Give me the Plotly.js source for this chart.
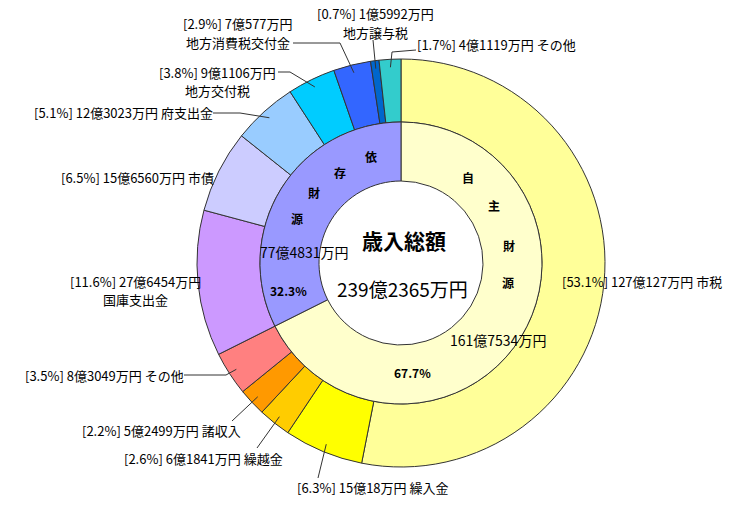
<!DOCTYPE html>
<html><head><meta charset="utf-8">
<script src="https://cdn.plot.ly/plotly-3.0.1.min.js"></script>
<style>html,body{margin:0;padding:0;background:#fff}</style>
</head><body><div id="chart" style="width:750px;height:509px"></div>
<script>
// ---- data (amounts in 万円) ----
const categories = ['市税','繰入金','繰越金','諸収入','その他','国庫支出金','市債','府支出金','地方交付税','地方消費税交付金','地方譲与税','その他'];
const amounts = [1270127,150018,61841,52499,83049,276454,156560,123023,91106,70577,15992,41119];
const percents = [53.1,6.3,2.6,2.2,3.5,11.6,6.5,5.1,3.8,2.9,0.7,1.7];
const sourceGroups = ['自主財源','依存財源'];
const sourceAmounts = [1617534,774831];
const sourcePercents = [67.7,32.3];
const totalTitle = '歳入総額';
const totalAmount = 2392365;

// ---- styles ----
const outerColors = ['#FFFF99','#FFFF00','#FFCC00','#FF9900','#FF8080','#CC99FF','#CCCCFF','#99CCFF','#00CCFF','#3366FF','#0066CC','#33CCCC'];
const innerColors = ['#FFFFCC','#9999FF'];
const W = 750, H = 509, CX = 401, CY = 263, R_OUT = 204, R_MID = 141, R_IN = 82;
const FONT = '"Noto Sans CJK JP", "Noto Sans", sans-serif';

// label placement (pixels): mode 'L' left-anchored, 'R' right-anchored, 'C2' two centered lines
const labelPlace = [
  {mode:'L', x:562, y:281, lead:[]},
  {mode:'L', x:297, y:487, lead:[[318,478]]},
  {mode:'R', x:283, y:458, lead:[[257,448]]},
  {mode:'R', x:241, y:430, lead:[[232,421]]},
  {mode:'R', x:184, y:375, lead:[[184,375],[226,375]]},
  {mode:'C2', x:135, y:281, y2:299, lead:[]},
  {mode:'R', x:214, y:177, lead:[]},
  {mode:'R', x:213, y:113, lead:[[213,113],[240,113]]},
  {mode:'C2', x:217, y:72, y2:90, lead:[[278,72],[290,72]]},
  {mode:'C2', x:238, y:23, y2:43, lead:[[293,43],[340,43]]},
  {mode:'C2', x:375, y:14, y2:32, lead:[[373,40]]},
  {mode:'L', x:417, y:44, lead:[[416,50],[392,52]]}
];
// inner ring character positions (pixels)
const selfCharPos = [[468,177],[494,206],[509,245],[508,282]];
const depCharPos = [[371,156],[340,172],[314,192],[297,218]];

const px = x => x / W, py = y => 1 - y / H;
const fmtYen = v => Math.floor(v/10000) + '億' + (v % 10000) + '万円';
const total = amounts.reduce((a,b)=>a+b,0);

const traces = [
  {type:'pie', values:amounts, labels:categories.map((c,i)=>c+i), sort:false, direction:'clockwise', rotation:0,
   hole:R_MID/R_OUT, textinfo:'none', hoverinfo:'skip', showlegend:false,
   marker:{colors:outerColors, line:{color:'#333', width:1}},
   domain:{x:[px(CX-R_OUT), px(CX+R_OUT)], y:[py(CY+R_OUT), py(CY-R_OUT)]}},
  {type:'pie', values:sourceAmounts, labels:sourceGroups, sort:false, direction:'clockwise', rotation:0,
   hole:R_IN/R_MID, textinfo:'none', hoverinfo:'skip', showlegend:false,
   marker:{colors:innerColors, line:{color:'#333', width:1}},
   domain:{x:[px(CX-R_MID), px(CX+R_MID)], y:[py(CY+R_MID), py(CY-R_MID)]}}
];

const annotations = [];
const shapes = [];
const base = {family:FONT, size:13, color:'#000'};
function ann(text, x, y, opts) {
  annotations.push(Object.assign({text:text, x:px(x), y:py(y), xref:'paper', yref:'paper', showarrow:false,
    xanchor:'center', yanchor:'middle', borderpad:0, borderwidth:0, font:base}, opts||{}));
}
let cum = 0;
amounts.forEach((v,i)=>{
  const p = labelPlace[i];
  const head = '[' + percents[i].toFixed(1) + '%] ' + fmtYen(v);
  if (p.mode === 'L') ann(head + ' ' + categories[i], p.x, p.y, {xanchor:'left'});
  else if (p.mode === 'R') ann(head + ' ' + categories[i], p.x, p.y, {xanchor:'right'});
  else { ann(head, p.x, p.y); ann(categories[i], p.x, p.y2); }
  const th = 2*Math.PI*(cum + v/2)/total;
  cum += v;
  if (p.lead.length) {
    const pts = p.lead.concat([[CX + 196*Math.sin(th), CY - 196*Math.cos(th)]]);
    const d = 'M' + pts.map(q => px(q[0]) + ',' + py(q[1])).join(' L');
    shapes.push({type:'path', xref:'paper', yref:'paper', path:d, line:{color:'#333', width:1}});
  }
});

// inner ring labels
const bold = {family:FONT, size:12, color:'#000', weight:'bold'};
const mid = {family:FONT, size:14, color:'#000'};
sourceGroups[0].split('').forEach((c,i)=>ann(c, selfCharPos[i][0], selfCharPos[i][1], {font:bold}));
sourceGroups[1].split('').forEach((c,i)=>ann(c, depCharPos[i][0], depCharPos[i][1], {font:bold}));
ann(fmtYen(sourceAmounts[0]), 498, 340, {font:mid});
ann(sourcePercents[0].toFixed(1) + '%', 412, 372, {font:bold});
ann(fmtYen(sourceAmounts[1]), 304, 252, {font:mid});
ann(sourcePercents[1].toFixed(1) + '%', 288, 290, {font:bold});

// centre
ann(totalTitle, 404, 240, {font:{family:FONT, size:21, color:'#000', weight:'bold'}});
ann(Math.floor(totalAmount/10000) + '億' + (totalAmount%10000) + '万円', 402, 288, {font:{family:FONT, size:19, color:'#000'}});

const layout = {width:W, height:H, margin:{l:0,r:0,t:0,b:0}, paper_bgcolor:'#fff', showlegend:false,
  annotations:annotations, shapes:shapes};
Plotly.newPlot('chart', traces, layout, {staticPlot:true});
</script></body></html>
